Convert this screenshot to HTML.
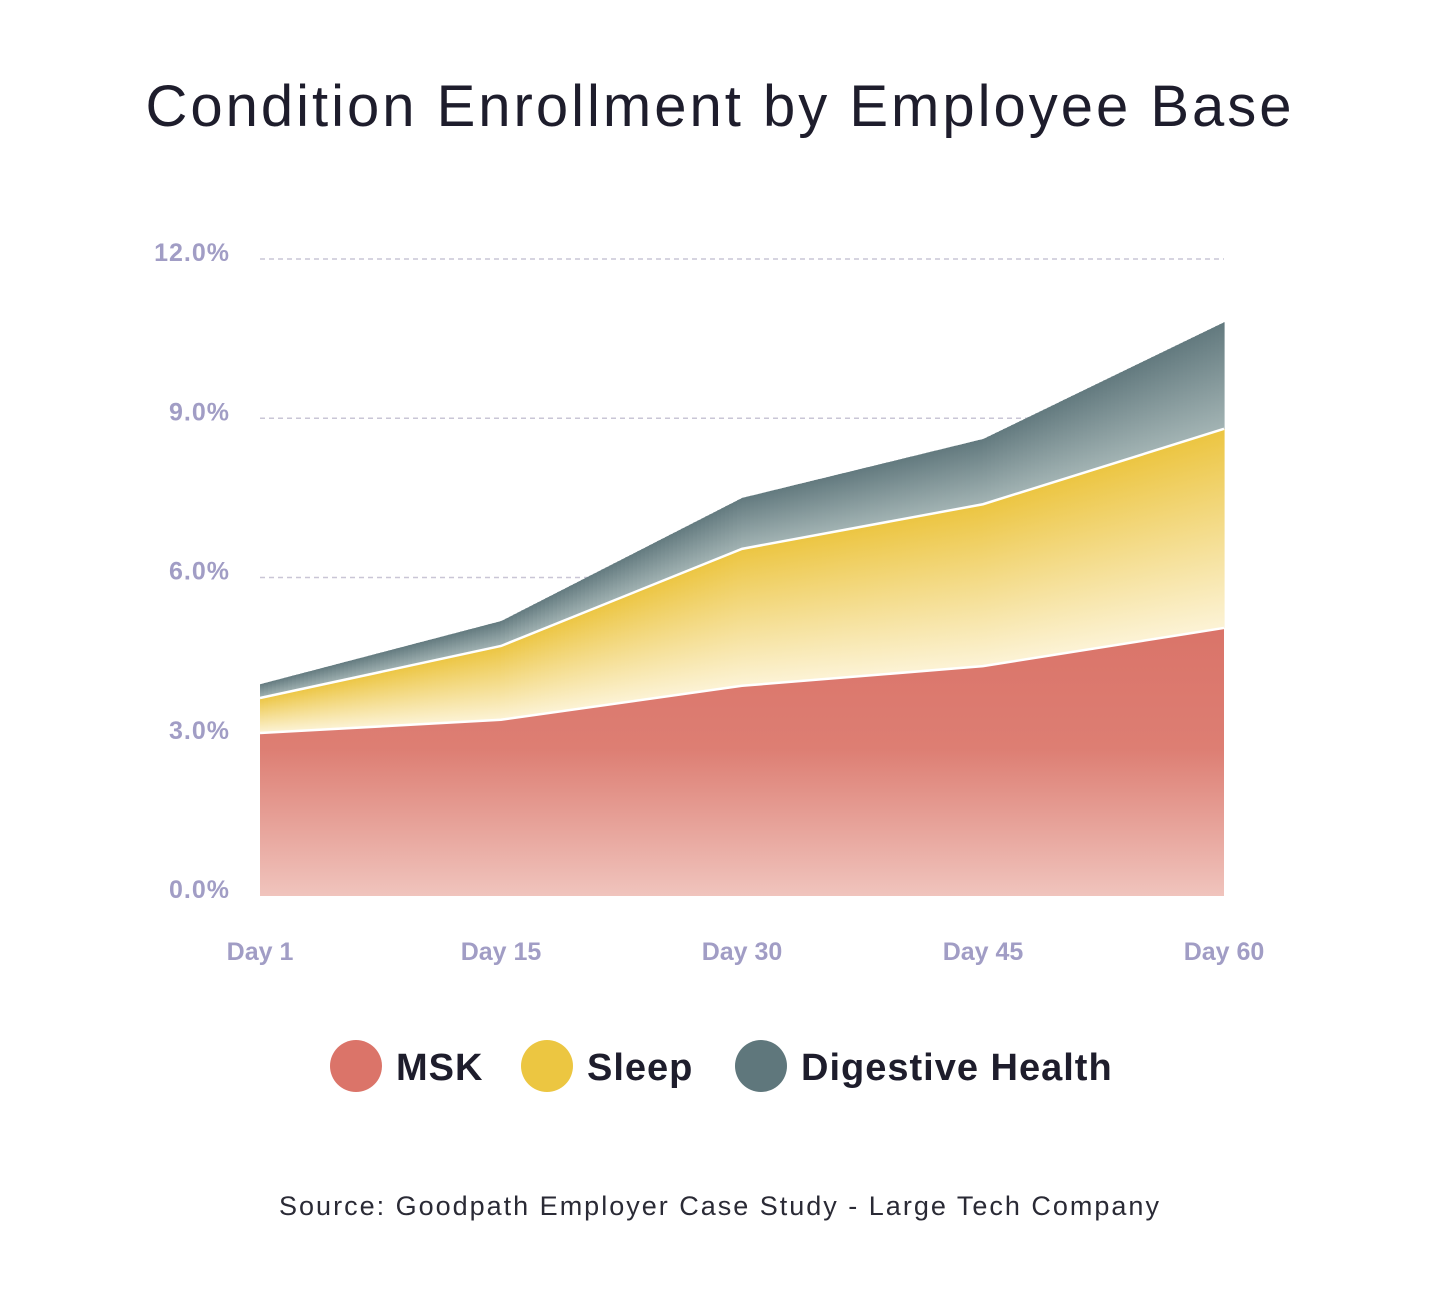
<!DOCTYPE html>
<html><head><meta charset="utf-8"><style>
html,body{margin:0;padding:0;background:#fff;}
svg{display:block;}
</style></head><body>
<svg width="1440" height="1300" viewBox="0 0 1440 1300" xmlns="http://www.w3.org/2000/svg">
<defs>
<linearGradient id="gMsk" x1="0" y1="0" x2="0" y2="1"><stop offset="0" stop-color="#da7469"/><stop offset="0.45" stop-color="#dd7e73"/><stop offset="1" stop-color="#f0c4bd"/></linearGradient>
<linearGradient id="gSleep" x1="0" y1="0" x2="0" y2="1"><stop offset="0" stop-color="#ecc541"/><stop offset="1" stop-color="#fcf3d6"/></linearGradient>
<linearGradient id="gDig" x1="0" y1="0" x2="0" y2="1"><stop offset="0" stop-color="#62797e"/><stop offset="1" stop-color="#a3b4b4"/></linearGradient>
</defs>
<text x="720" y="126" text-anchor="middle" font-family="Liberation Sans, sans-serif" font-size="58" letter-spacing="3" fill="#1e1d2c">Condition Enrollment by Employee Base</text>
<g id="grid"></g>
<g id="areas"></g>
<g id="lines"></g>
<g id="yTicks"></g>
<g id="xTicks"></g>
<g>
<g><circle cx="356" cy="1066" r="26" fill="#db7469"/><text x="396" y="1080" font-family="Liberation Sans, sans-serif" font-size="38" font-weight="bold" letter-spacing="1" fill="#1e1d2c">MSK</text></g>
<g><circle cx="547" cy="1066" r="26" fill="#ecc641"/><text x="587" y="1080" font-family="Liberation Sans, sans-serif" font-size="38" font-weight="bold" letter-spacing="1" fill="#1e1d2c">Sleep</text></g>
<g><circle cx="761" cy="1066" r="26" fill="#5f777c"/><text x="801" y="1080" font-family="Liberation Sans, sans-serif" font-size="38" font-weight="bold" letter-spacing="1" fill="#1e1d2c">Digestive Health</text></g>
</g>
<text x="720" y="1215" text-anchor="middle" font-family="Liberation Sans, sans-serif" font-size="27" letter-spacing="2" fill="#2a2a35">Source: Goodpath Employer Case Study - Large Tech Company</text>
</svg>
<script>
const categories = ["Day 1","Day 15","Day 30","Day 45","Day 60"];
const mskValues = [3.07,3.32,3.96,4.33,5.05];
const sleepValues = [0.66,1.39,2.58,3.05,3.75];
const digestiveValues = [0.26,0.47,0.96,1.23,2.01];
const yTickValues = [0,3,6,9,12];
const yTickLabels = ["0.0%","3.0%","6.0%","9.0%","12.0%"];

const NS="http://www.w3.org/2000/svg";
const X0=260,X1=1224,Y0=896,Y1=259,YMAX=12;
function xScale(i){return X0+(X1-X0)*i/(categories.length-1);}
function yScale(v){return Y0-(Y0-Y1)*v/YMAX;}
function mk(tag,attrs,parent){const e=document.createElementNS(NS,tag);for(const k in attrs)e.setAttribute(k,attrs[k]);parent.appendChild(e);return e;}

const grid=document.getElementById('grid');
yTickValues.forEach(v=>{if(v===0)return;
 const l=mk('line',{x1:X0,x2:X1,y1:yScale(v),y2:yScale(v),stroke:'#c9c6d6','stroke-width':1.5,'stroke-dasharray':'5 4'},grid);
 
 
});

const areas=document.getElementById('areas');
const lines=document.getElementById('lines');
const series=[mskValues,sleepValues,digestiveValues];
const names=['area-msk','area-sleep','area-digestive-health'];
const fills=['url(#gMsk)','url(#gSleep)','url(#gDig)'];
let base=categories.map(()=>0);
const tops=[];
const STEP=4;
series.forEach((s,k)=>{
 const top=base.map((b,i)=>b+s[i]);
 const g=mk('g',{},areas);
 
 
 if(k===0){
  let d='';
  top.forEach((v,i)=>{d+=(i?'L':'M')+xScale(i)+','+yScale(v);});
  for(let i=base.length-1;i>=0;i--)d+='L'+xScale(i)+','+yScale(base[i]);
  d+='Z';
  mk('path',{d:d,fill:fills[k]},g);
 } else {
  for(let i=0;i<top.length-1;i++){
   const xa=xScale(i),xb=xScale(i+1);
   for(let x=xa;x<xb;x+=STEP){
    const x2=Math.min(x+STEP,xb);
    const ta=(x-xa)/(xb-xa),tb=(x2-xa)/(xb-xa);
    const yt1=yScale(top[i]+(top[i+1]-top[i])*ta), yt2=yScale(top[i]+(top[i+1]-top[i])*tb);
    const yb1=yScale(base[i]+(base[i+1]-base[i])*ta), yb2=yScale(base[i]+(base[i+1]-base[i])*tb);
    mk('path',{d:`M${x},${yt1}L${x2+0.6},${yt2}L${x2+0.6},${yb2}L${x},${yb1}Z`,fill:fills[k]},g);
   }
  }
 }
 tops.push(top);base=top;
});
tops.slice(0,2).forEach(top=>{
 let d='';top.forEach((v,i)=>{d+=(i?'L':'M')+xScale(i)+','+yScale(v);});
 const p=mk('path',{d:d,fill:'none',stroke:'#fff','stroke-width':2.5},lines);
 
 
});

const yt=document.getElementById('yTicks');
yTickValues.forEach((v,i)=>{
 const t=mk('text',{x:230,y:yScale(v)+2,'text-anchor':'end','font-family':'Liberation Sans, sans-serif','font-size':25,'font-weight':'bold','letter-spacing':1,fill:'#a19dc5'},yt);
 t.textContent=yTickLabels[i];
 
 
});
const xt=document.getElementById('xTicks');
categories.forEach((c,i)=>{
 const t=mk('text',{x:xScale(i),y:960,'text-anchor':'middle','font-family':'Liberation Sans, sans-serif','font-size':25,'font-weight':'bold',fill:'#a19dc5'},xt);
 t.textContent=c;
 
 
});
</script>
</body></html>
